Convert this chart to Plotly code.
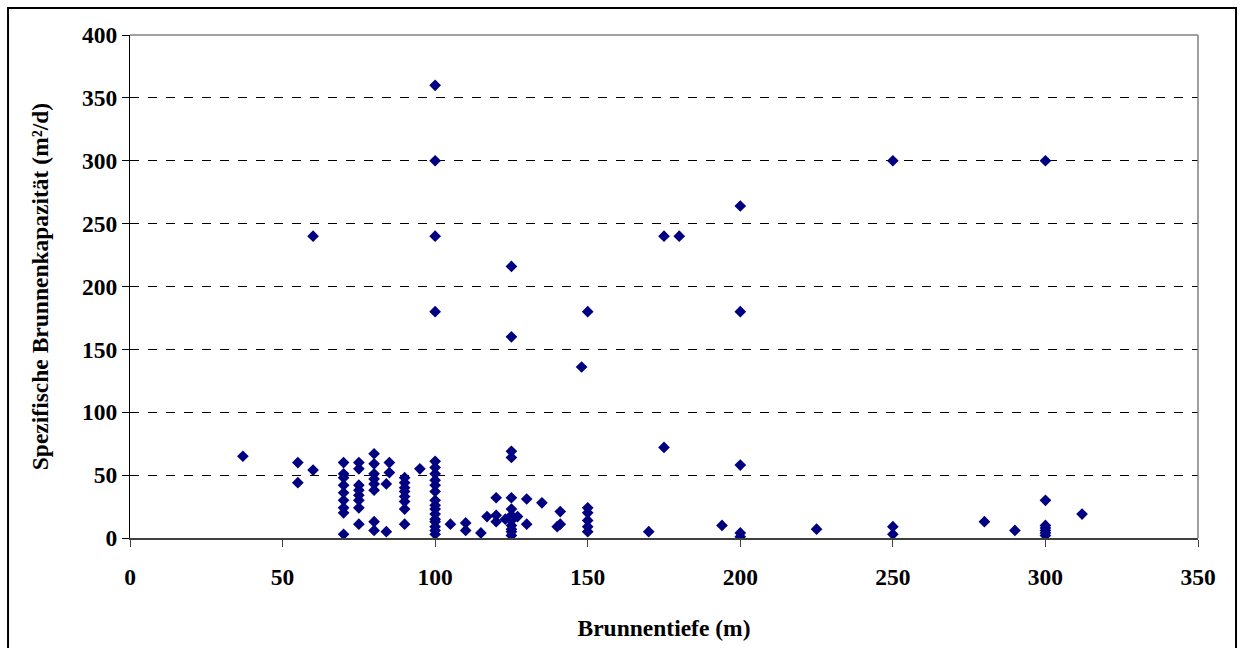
import plotly.graph_objects as go

# Brunnentiefe (m) and spezifische Brunnenkapazität (m²/d)
depth = [
    37, 55, 55, 60, 60,
    70, 70, 70, 70, 70, 70, 70, 70, 70,
    75, 75, 75, 75, 75, 75, 75, 75,
    80, 80, 80, 80, 80, 80, 80, 80,
    84, 84, 85, 85,
    90, 90, 90, 90, 90, 90, 90, 90,
    95,
    100, 100, 100, 100, 100, 100, 100, 100, 100, 100, 100, 100, 100, 100, 100,
    100, 100, 100, 100,
    105, 110, 110, 115, 117,
    120, 120, 120, 123,
    125, 125, 125, 125, 125, 125, 125, 125, 125, 125, 125, 125,
    127, 130, 130, 135, 140, 141, 141, 148,
    150, 150, 150, 150, 150, 150,
    170, 175, 175, 180, 194,
    200, 200, 200, 200, 200,
    225, 250, 250, 250, 280, 290,
    300, 300, 300, 300, 300, 300, 300,
    312,
]
capacity = [
    65, 60, 44, 54, 240,
    60, 51, 48, 42, 36, 30, 24, 20, 3,
    60, 55, 42, 38, 34, 30, 24, 11,
    67, 59, 51, 47, 43, 38, 13, 6,
    43, 5, 60, 52,
    48, 44, 40, 37, 33, 29, 23, 11,
    55,
    61, 56, 51, 46, 42, 37, 30, 26, 23, 19, 15, 13, 9, 6, 3,
    180, 240, 300, 360,
    11, 12, 6, 4, 17,
    32, 18, 13, 15,
    69, 64, 32, 23, 18, 14, 10, 7, 5, 2, 160, 216,
    17, 31, 11, 28, 9, 21, 11, 136,
    24, 20, 14, 9, 5, 180,
    5, 72, 240, 240, 10,
    58, 4, 1, 180, 264,
    7, 9, 3, 300, 13, 6,
    30, 10, 8, 6, 4, 2, 300,
    19,
]

x_ticks = [0, 50, 100, 150, 200, 250, 300, 350]
y_ticks = [0, 50, 100, 150, 200, 250, 300, 350, 400]

FONT = "Liberation Serif, Times New Roman, serif"
FS = 23.5

fig = go.Figure()
fig.add_trace(go.Scatter(
    x=depth, y=capacity, mode="markers",
    marker=dict(symbol="diamond", size=9, color="#000080",
                line=dict(width=0)),
    hoverinfo="x+y", showlegend=False,
))

fig.update_layout(
    width=1240, height=648,
    margin=dict(l=130, r=42, t=35, b=110, pad=0),
    paper_bgcolor="white", plot_bgcolor="white",
    font=dict(family=FONT, size=FS, color="black"),
    xaxis=dict(
        range=[0, 350], tickvals=x_ticks, ticktext=[str(v) for v in x_ticks],
        showgrid=False, zeroline=False,
        showline=True, linecolor="#404040", linewidth=2,
        ticks="outside", ticklen=7, tickwidth=1, tickcolor="#404040",
        ticklabelstandoff=10,
        tickfont=dict(family=FONT, size=FS, color="black", weight="bold"),
        title=dict(text="Brunnentiefe (m)", standoff=30,
                   font=dict(family=FONT, size=FS, color="black", weight="bold")),
    ),
    yaxis=dict(
        range=[0, 400], tickvals=y_ticks, ticktext=[str(v) for v in y_ticks],
        showgrid=True, gridcolor="black", griddash="dash", gridwidth=1,
        zeroline=False,
        showline=True, linecolor="black", linewidth=1,
        ticks="outside", ticklen=7, tickwidth=1, tickcolor="black",
        ticklabelstandoff=0,
        tickfont=dict(family=FONT, size=FS, color="black", weight="bold"),
        title=dict(text="Spezifische Brunnenkapazität (m²/d)", standoff=26,
                   font=dict(family=FONT, size=FS, color="black", weight="bold")),
    ),
    shapes=[
        # grey frame on top and right of plot area
        dict(type="line", xref="paper", yref="paper", x0=0, x1=1, y0=1, y1=1,
             line=dict(color="#808080", width=1.5)),
        dict(type="line", xref="paper", yref="paper", x0=1, x1=1, y0=0, y1=1,
             line=dict(color="#808080", width=1.5)),
        # outer chart border
        dict(type="rect", xref="paper", yref="paper",
             x0=-0.1142, x1=1.0356, y0=-0.26, y1=1.0537,
             line=dict(color="black", width=2), fillcolor="rgba(0,0,0,0)",
             layer="below"),
    ],
)

fig.write_html("out.html")
